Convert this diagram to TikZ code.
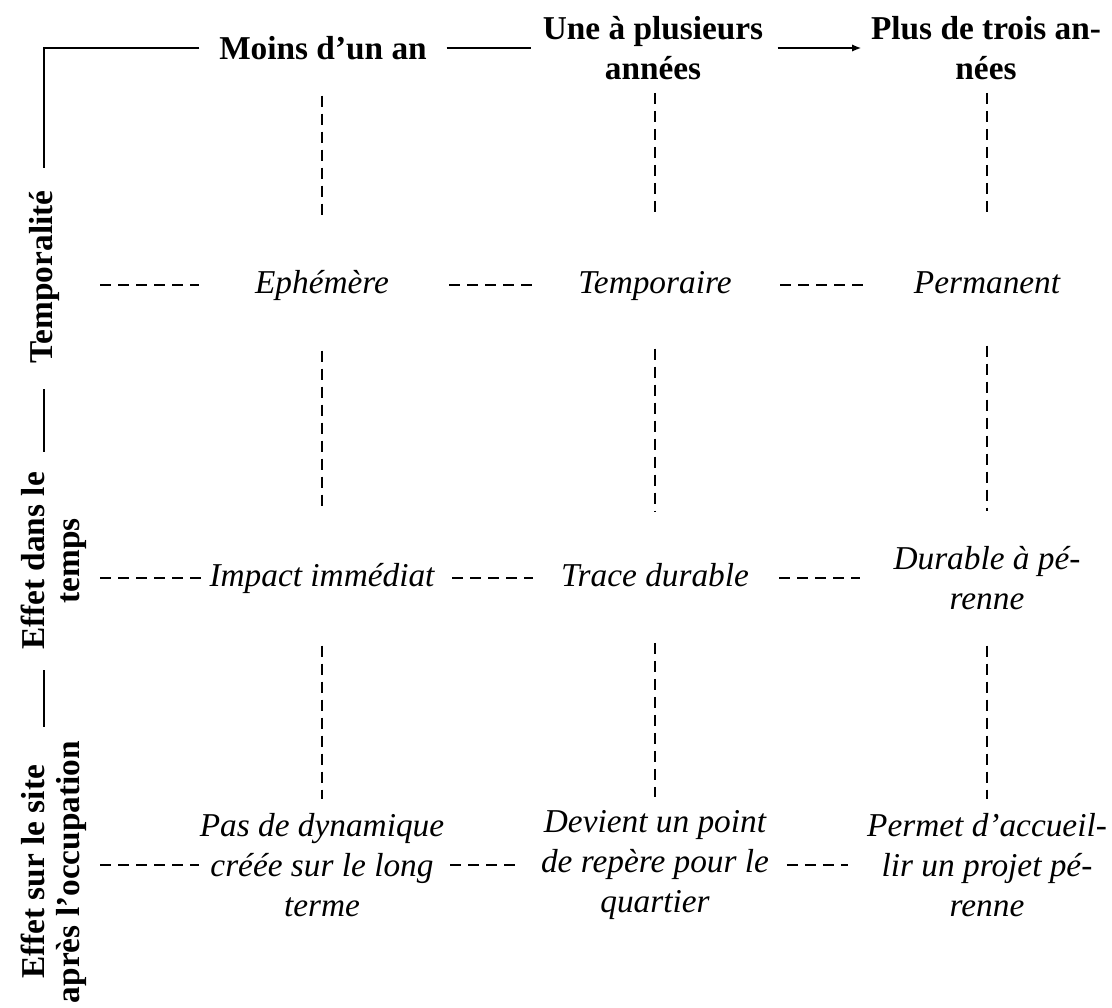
\documentclass[tikz,border=0pt]{standalone}
\usepackage{fontspec}
\setmainfont{Liberation Serif}
\usetikzlibrary{arrows.meta}

\tikzset{every picture/.style={line width=0.75pt}}
\tikzset{
  head/.style={font=\bfseries\fontsize{25}{30}\selectfont, align=center, inner sep=0pt},
  cell/.style={font=\itshape\fontsize{25}{30}\selectfont, align=center, inner sep=0pt},
  oneline/.style={text height=17.25pt, text depth=5.25pt},
  side/.style={font=\bfseries\fontsize{25}{26}\selectfont, align=center, inner sep=0pt, rotate=90},
  solidline/.style={line width=1.6pt},
  dashline/.style={line width=1.3pt, dash pattern=on 8.25pt off 5.25pt},
}

\begin{document}
\begin{tikzpicture}[x=0.75pt,y=0.75pt,yscale=-1,xscale=1]
\path[use as bounding box] (0,0) rectangle (1112,1007);

% Text Node : headers
\node[head] (h1) at (323,48) {Moins d’un an};
\node[head] (h2) at (653,48) {Une à plusieurs\\années};
\node[head] (h3) at (986,48) {Plus de trois an-\\nées};
\coordinate (corner) at (44,48);

% Text Node : side labels
\node[side] (l1) at (44,277) {Temporalité};
\node[side] (l2) at (54,561) {Effet dans le\\temps};
\node[side] (l3) at (54,872) {Effet sur le site\\après l’occupation};

% Text Node : cells
\node[cell, oneline] (e1) at (322,285) {Ephémère};
\node[cell, oneline] (e2) at (655,285) {Temporaire};
\node[cell, oneline] (e3) at (987,285) {Permanent};
\node[cell, oneline] (t1) at (322,578) {Impact immédiat};
\node[cell, oneline] (t2) at (655,578) {Trace durable};
\node[cell] (t3) at (987,578) {Durable à pé-\\renne};
\node[cell] (s1) at (322,865) {Pas de dynamique\\créée sur le long\\terme};
\node[cell] (s2) at (655,865) {Devient un point\\de repère pour le\\quartier};
\node[cell] (s3) at (987,865) {Permet d’accueil-\\lir un projet pé-\\renne};

%Straight Lines
\draw[solidline, shorten <=14.6pt, shorten >=16.5pt] (h1) -- (corner) -- (l1);
\draw[solidline, shorten <=14.6pt, shorten >=8.3pt] (h1) -- (h2);
\draw[solidline, shorten <=10.5pt, shorten >=6.8pt, -{Latex[length=7pt,width=5.5pt]}] (h2) -- (h3);
\draw[solidline, shorten <=19pt, shorten >=15pt] (l1) -- (l1 |- l2.east);
\draw[solidline, shorten <=15pt, shorten >=10pt] (l1 |- l2.west) -- (l1 |- l3.east);

%Dashed Lines : columns
\draw[dashline, shorten <=26.6pt, shorten >=39pt] (e1 |- h1.south) -- (e1);
\draw[dashline, shorten <=9.4pt, shorten >=39pt] (e2 |- h2.south) -- (e2);
\draw[dashline, shorten <=9.4pt, shorten >=41pt] (e3 |- h3.south) -- (e3);
\draw[dashline, shorten <=37.5pt, shorten >=38pt] (e1) -- (t1);
\draw[dashline, shorten <=36pt, shorten >=38pt] (e2) -- (t2);
\draw[dashline, shorten <=33.75pt, shorten >=26pt] (e3) -- (t3);
\draw[dashline, shorten <=39pt, shorten >=10pt] (t1) -- (s1);
\draw[dashline, shorten <=37pt, shorten >=10pt] (t2) -- (s2);
\draw[dashline, shorten <=26.6pt, shorten >=10pt] (t3) -- (s3);

%Dashed Lines : rows
\draw[dashline, shorten <=42pt, shorten >=42pt] (l1 |- e1) -- (e1);
\draw[dashline, shorten <=45pt, shorten >=32pt] (e1) -- (e2);
\draw[dashline, shorten <=36pt, shorten >=36pt] (e2) -- (e3);
\draw[dashline, shorten <=42pt, shorten >=5.6pt] (l1 |- t1) -- (t1);
\draw[dashline, shorten <=13pt, shorten >=21pt] (t1) -- (t2);
\draw[dashline, shorten <=22.5pt, shorten >=25pt] (t2) -- (t3);
\draw[dashline, shorten <=42pt, shorten >=0.5pt] (l1 |- s1) -- (s1);
\draw[dashline, shorten <=4pt, shorten >=18pt] (s1) -- (s2);
\draw[dashline, shorten <=13pt, shorten >=14pt] (s2) -- (s3);

\end{tikzpicture}
\end{document}
